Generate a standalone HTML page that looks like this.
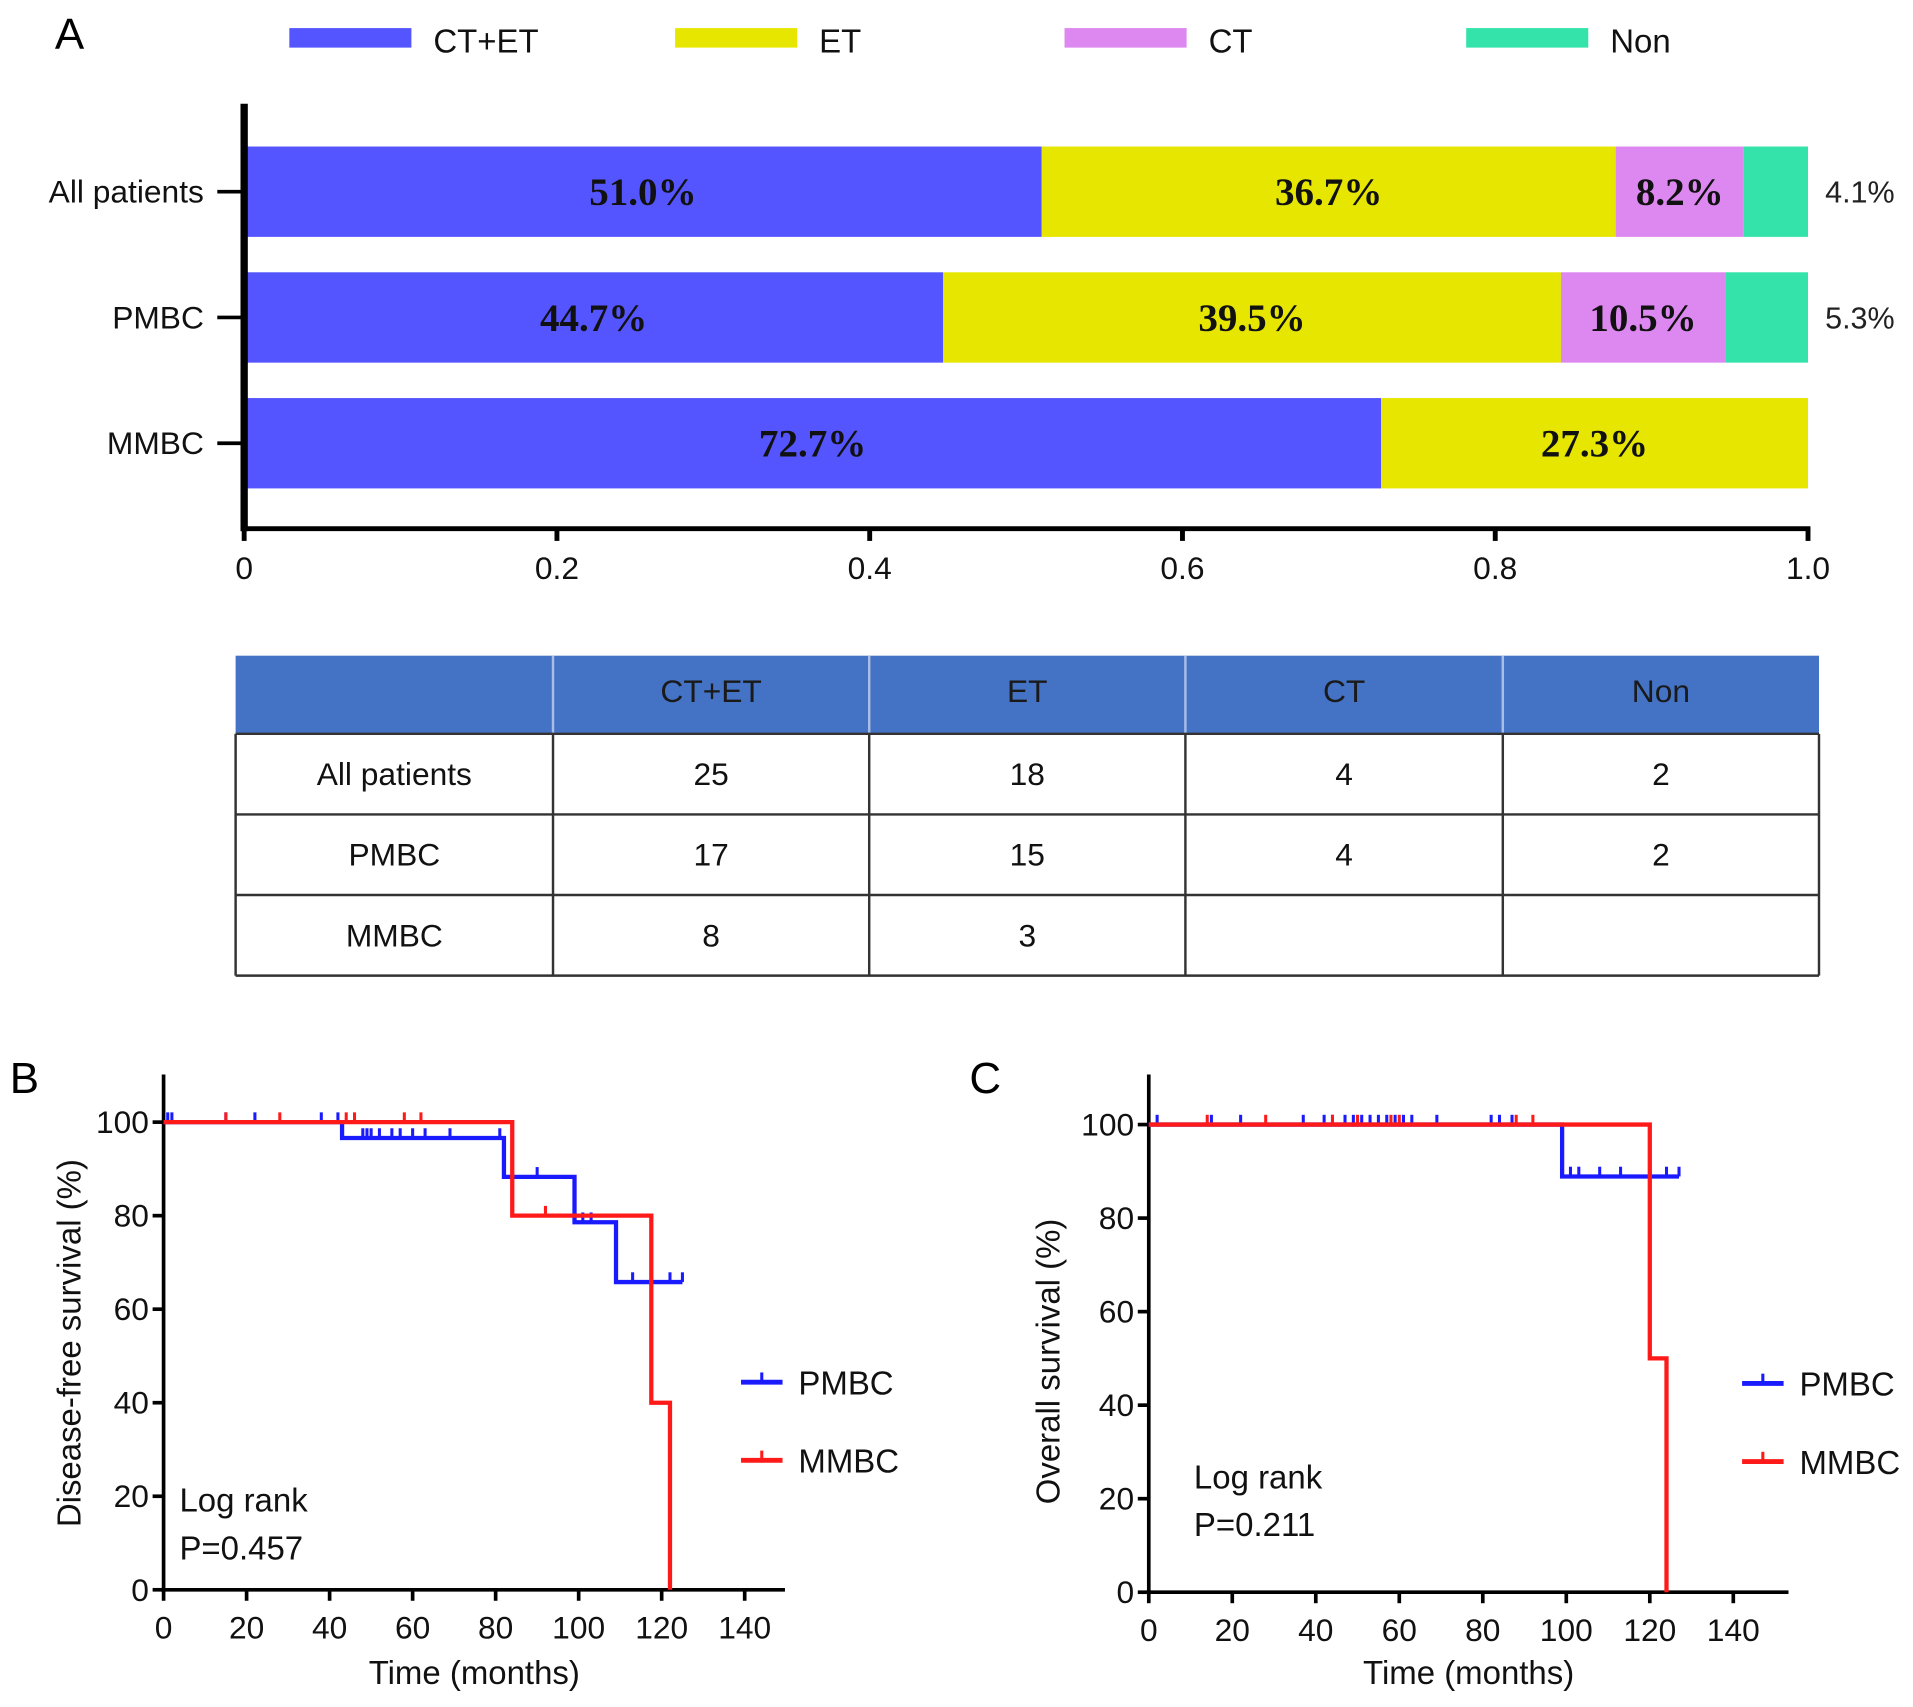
<!DOCTYPE html>
<html><head><meta charset="utf-8"><style>
html,body{margin:0;padding:0;background:#fff;}
svg{display:block;font-family:"Liberation Sans",Arial,sans-serif;}
</style></head><body>
<svg id="fig" width="1913" height="1707" viewBox="0 0 1567 1398" preserveAspectRatio="none" xmlns="http://www.w3.org/2000/svg">
<g id="panelA"></g>
<g id="tableA"></g>
<g id="panelB"></g>
<g id="panelC"></g>
</svg>
<script>
const NS='http://www.w3.org/2000/svg';
function mk(parent,tag,attrs,text){const e=document.createElementNS(NS,tag);for(const k in attrs)e.setAttribute(k,attrs[k]);if(text!==undefined)e.textContent=text;parent.appendChild(e);return e;}

// ---------- Panel A data ----------
const groups=['All patients','PMBC','MMBC'];
const seriesNames=['CT+ET','ET','CT','Non'];
const seriesColors=['#5555ff','#e6e600','#dd88f0','#33e3aa'];
const ctet=[51.0,44.7,72.7];
const et=[36.7,39.5,27.3];
const ct=[8.2,10.5,0];
const non=[4.1,5.3,0];
const xTicksA=[0,0.2,0.4,0.6,0.8,1.0];
const xTickLabelsA=['0','0.2','0.4','0.6','0.8','1.0'];
const tableRows=[['All patients','25','18','4','2'],['PMBC','17','15','4','2'],['MMBC','8','3','','']];

// ---------- Panel B / C data ----------
const bBlueT=[0,43,43,82,82,99,99,109,109,125];
const bBlueS=[100,100,96.6,96.6,88.3,88.3,78.6,78.6,65.8,65.8];
const bRedT=[0,84,84,117.5,117.5,122,122];
const bRedS=[100,100,80,80,40,40,0];
const bBlueCens=[1,2,15,22,38,42,48,49,50,52,55,57,60,63,69,81,90,101,103,113,122,125];
const bRedCens=[15,28,44,46,58,62,92];
const cBlueT=[0,99,99,127];
const cBlueS=[100,100,88.9,88.9];
const cRedT=[0,120,120,124,124];
const cRedS=[100,100,50,50,0];
const cBlueCens=[2,15,22,37,42,44,47,49,51,53,55,57,59,61,63,69,82,84,87,101,103,108,113,124,127];
const cRedCens=[14,28,44,50,58,60,88,92];
const kmXTicks=[0,20,40,60,80,100,120,140];
const kmYTicks=[0,20,40,60,80,100];

// ---------- Draw panel A ----------
(function(){
 const g=document.getElementById('panelA');
 const x0=200,x1=1481,yTop=85,yAx=433;
 const xs=v=>x0+v*(x1-x0);
 const barTops=[120,223,326],barH=74;
 mk(g,'text',{x:45,y:40,'font-size':36,fill:'#000',},'A');
 const lx=[237,553,872,1201];
 seriesNames.forEach((n,i)=>{
  const e=mk(g,'g',{});
  
  
  mk(e,'rect',{x:lx[i],y:23,width:100,height:16,fill:seriesColors[i]});
  mk(e,'text',{x:lx[i]+118,y:43,'font-size':27,fill:'#111'},n);
 });
 const data=[ctet,et,ct,non];
 groups.forEach((gr,gi)=>{
  let acc=0;
  const yc=barTops[gi]+barH/2;
  data.forEach((arr,si)=>{
   const v=arr[gi]/100; if(v<=0)return;
   const r=mk(g,'rect',{x:xs(acc),y:barTops[gi],width:xs(acc+v)-xs(acc),height:barH,fill:seriesColors[si]});
   
   
   const lbl=arr[gi].toFixed(1)+'%';
   if(si<3){
    mk(g,'text',{x:(xs(acc)+xs(acc+v))/2,y:yc+11,'text-anchor':'middle','font-size':32,'font-weight':'bold','font-family':'"Liberation Serif",serif',fill:'#111'},lbl);
   } else {
    mk(g,'text',{x:1495,y:yc+9,'font-size':25,fill:'#222'},lbl);
   }
   acc+=v;
  });
  mk(g,'line',{x1:178,x2:198,y1:yc,y2:yc,stroke:'#000','stroke-width':3});
  const t=mk(g,'text',{x:167,y:yc+9,'text-anchor':'end','font-size':26,fill:'#111'},gr);
  
  
 });
 mk(g,'line',{x1:x0,x2:x0,y1:yTop,y2:yAx+2,stroke:'#000','stroke-width':6,});
 mk(g,'line',{x1:x0-3,x2:x1+2,y1:yAx,y2:yAx,stroke:'#000','stroke-width':4,});
 xTicksA.forEach((v,i)=>{
  mk(g,'line',{x1:xs(v),x2:xs(v),y1:yAx,y2:yAx+10,stroke:'#000','stroke-width':4});
  mk(g,'text',{x:xs(v),y:yAx+41,'text-anchor':'middle','font-size':26,fill:'#111'},xTickLabelsA[i]);
 });
})();

// ---------- Table ----------
(function(){
 const g=document.getElementById('tableA');
 const cx=[193,453,712,971,1231,1490];
 const ry=[537,601,667,733,799];
 mk(g,'rect',{x:193,y:537,width:1297,height:64,fill:'#4472c4',});
 ['','CT+ET','ET','CT','Non'].forEach((h,i)=>{
  mk(g,'text',{x:(cx[i]+cx[i+1])/2,y:575,'text-anchor':'middle','font-size':26,fill:'#1a1a1a'},h);
 });
 for(let i=1;i<5;i++) mk(g,'line',{x1:cx[i],x2:cx[i],y1:537,y2:601,stroke:'#a9bde6','stroke-width':2});
 tableRows.forEach((row,ri)=>{
  row.forEach((c,ci)=>{
   const t=mk(g,'text',{x:(cx[ci]+cx[ci+1])/2,y:ry[ri+1]+42,'text-anchor':'middle','font-size':26,fill:'#111'},c);
   
   
  });
 });
 for(let i=1;i<5;i++) mk(g,'line',{x1:193,x2:1490,y1:ry[i],y2:ry[i],stroke:'#333','stroke-width':2});
 cx.forEach(x=>mk(g,'line',{x1:x,x2:x,y1:601,y2:799,stroke:'#333','stroke-width':2}));
})();

// ---------- KM panels ----------
function km(gid,o){
 const g=document.getElementById(gid);
 const xs=t=>o.x0+t*o.px;
 const ys=s=>o.y0-s*o.py;
 mk(g,'text',{x:o.lab[0],y:o.lab[1],'font-size':36,fill:'#000'},o.letter);
 mk(g,'line',{x1:o.x0,x2:o.x0,y1:880,y2:o.y0+2,stroke:'#000','stroke-width':3});
 mk(g,'line',{x1:o.x0-2,x2:o.xEnd,y1:o.y0,y2:o.y0,stroke:'#000','stroke-width':3});
 kmXTicks.forEach(t=>{
  mk(g,'line',{x1:xs(t),x2:xs(t),y1:o.y0,y2:o.y0+9,stroke:'#000','stroke-width':3});
  mk(g,'text',{x:xs(t),y:o.y0+40,'text-anchor':'middle','font-size':26,fill:'#111'},String(t));
 });
 kmYTicks.forEach(s=>{
  mk(g,'line',{x1:o.x0-9,x2:o.x0,y1:ys(s),y2:ys(s),stroke:'#000','stroke-width':3});
  mk(g,'text',{x:o.x0-12,y:ys(s)+9,'text-anchor':'end','font-size':26,fill:'#111'},String(s));
 });
 mk(g,'text',{x:(o.x0+o.xEnd)/2,y:1379,'text-anchor':'middle','font-size':27,fill:'#111',},'Time (months)');
 mk(g,'text',{x:0,y:0,'text-anchor':'middle','font-size':27,fill:'#111',transform:`translate(${o.yt[0]},${o.yt[1]}) rotate(-90)`,},o.ytitle);
 function curve(T,S,cens,color,name){
  let d='';
  T.forEach((t,i)=>{d+=(i?'L':'M')+xs(t)+' '+ys(S[i]);});
  const p=mk(g,'path',{d:d,fill:'none',stroke:color,'stroke-width':3.5});
  
  
  cens.forEach(c=>{
   let s=S[0];
   for(let i=0;i<T.length;i++){if(T[i]<=c)s=S[i];}
   mk(g,'line',{x1:xs(c),x2:xs(c),y1:ys(s),y2:ys(s)-8,stroke:color,'stroke-width':2.5});
  });
 }
 curve(o.bt,o.bs,o.bc,'#1a1aff','pmbc');
 curve(o.rt,o.rs,o.rc,'#ff1a1a','mmbc');
 [['PMBC','#1a1aff',0],['MMBC','#ff1a1a',1]].forEach(([n,c,i])=>{
  const e=mk(g,'g',{});
  
  
  const y=o.leg[1]+i*64;
  mk(e,'line',{x1:o.leg[0],x2:o.leg[0]+34,y1:y,y2:y,stroke:c,'stroke-width':4});
  mk(e,'line',{x1:o.leg[0]+17,x2:o.leg[0]+17,y1:y,y2:y-8,stroke:c,'stroke-width':2.5});
  mk(e,'text',{x:o.leg[0]+47,y:y+10,'font-size':27,fill:'#111'},n);
 });
 mk(g,'text',{x:o.lr[0],y:o.lr[1],'font-size':27,fill:'#111'},'Log rank');
 mk(g,'text',{x:o.lr[0],y:o.lr[1]+39,'font-size':27,fill:'#111'},o.p);
}
km('panelB',{letter:'B',lab:[8,895],x0:134,y0:1302,px:3.40,py:3.83,xEnd:643,ytitle:'Disease-free survival (%)',yt:[66,1100],
 bt:bBlueT,bs:bBlueS,bc:bBlueCens,rt:bRedT,rs:bRedS,rc:bRedCens,leg:[607,1132],lr:[147,1238],p:'P=0.457'});
km('panelC',{letter:'C',lab:[794,895],x0:941,y0:1304,px:3.42,py:3.83,xEnd:1465,ytitle:'Overall survival (%)',yt:[868,1115],
 bt:cBlueT,bs:cBlueS,bc:cBlueCens,rt:cRedT,rs:cRedS,rc:cRedCens,leg:[1427,1133],lr:[978,1219],p:'P=0.211'});
</script>
</body></html>
